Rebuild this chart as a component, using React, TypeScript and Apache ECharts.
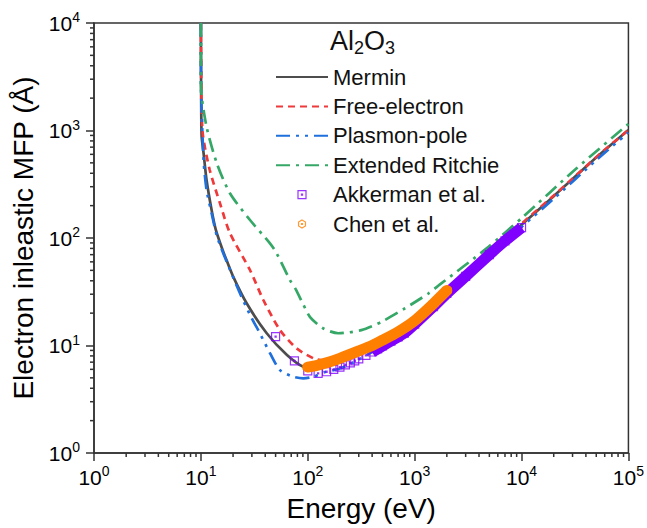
import React, { useEffect, useRef } from "react";
import * as echarts from "echarts";

// ---- Data ----
const merminE = [10.0, 10.02, 10.08, 10.17, 10.6, 11.3, 12.6, 13.8, 16, 17.4, 20, 26.8, 41.3, 63.5, 90.8, 120, 150, 200, 300, 500, 1000, 2000, 5000, 10000, 20000, 50000, 100000];
const merminL = [10000, 5000, 1500, 875, 614, 346, 182, 119, 77, 62, 44, 24.7, 13.0, 8.2, 6.35, 6.2, 6.5, 7.0, 8.6, 11.2, 17.5, 32, 72, 133, 245, 560, 1010];

const freeE = [10.0, 10.1, 10.4, 12.1, 15.1, 18.7, 28.8, 38.4, 55, 78.7, 113, 140, 200, 300, 500, 1000, 2000, 5000, 10000, 20000, 50000, 100000];
const freeL = [10000, 2500, 942, 429, 210, 111, 50.4, 26.5, 13.9, 9.4, 7.6, 7.3, 7.6, 8.9, 11.6, 17.8, 32.5, 72, 136, 248, 565, 1010];

const plasmonE = [10.0, 10.04, 10.6, 11.3, 12.6, 14.1, 16.2, 23.2, 29.9, 34.4, 44.3, 55, 73, 90.8, 113, 145, 200, 300, 500, 1000, 2000, 5000, 10000, 20000, 50000, 100000];
const plasmonL = [10000, 2500, 532, 280, 170, 105, 72, 30.6, 17.9, 13.9, 8.5, 5.9, 5.13, 4.95, 5.13, 5.66, 6.1, 7.4, 10.0, 16.0, 30, 68, 127, 232, 530, 960];

const ritchieE = [10.0, 10.03, 11.3, 14.1, 18.7, 28.8, 44.3, 51.2, 68, 77, 90, 105, 140, 193, 317, 490, 812, 1353, 1725, 4715, 10380, 32750, 100000];
const ritchieL = [10000, 2550, 1085, 495, 261, 147, 89, 72, 40.7, 33.5, 24.5, 18.4, 14.4, 13.0, 13.9, 16.6, 22.2, 30.6, 37, 80, 158, 445, 1150];

const akkermanE = [50, 75, 100, 125, 150, 175, 200, 225, 250, 275, 300, 350, 400, 450, 500, 600, 700, 800, 1000, 1500, 2000, 3000, 5000, 7000, 10000];
const akkermanL = [12.1, 7.2, 5.8, 5.5, 5.7, 6.0, 6.3, 6.6, 6.9, 7.2, 7.5, 8.1, 8.7, 9.3, 9.9, 11.0, 12.0, 13.0, 15.8, 23, 30.5, 44, 70, 94, 125];

const chenE = [100, 120, 150, 200, 300, 400, 500, 700, 1000, 1500, 2000];
const chenL = [6.3, 6.5, 6.9, 7.6, 8.9, 10.0, 11.2, 13.4, 17.0, 24.5, 32.5];

const xDecades = [1, 10, 100, 1000, 10000];
const yDecades = [1, 10, 100, 1000];
const minorSteps = [2, 3, 4, 5, 6, 7, 8, 9];

const FONT = "'Liberation Sans', Arial, Helvetica, sans-serif";
const AXIS = "#333333";
const PURPLE = "#8000ff";
const ORANGE = "#ff7f00";

const squarePath = "path://M0,0 L10,0 L10,10 L0,10 Z M4.3,4.3 L5.7,4.3 L5.7,5.7 L4.3,5.7 Z";
const hexPath = "path://M5,0 L9.33,2.5 L9.33,7.5 L5,10 L0.67,7.5 L0.67,2.5 Z M4.4,4.4 L5.6,4.4 L5.6,5.6 L4.4,5.6 Z";

const zip = (a: number[], b: number[]) => a.map((v, i) => [v, b[i]]);

const labelFmt = (v: number) => `{b|10}{s|${Math.round(Math.log10(v))}}`;
const labelRich = {
  b: { fontSize: 21, lineHeight: 26, fontFamily: FONT, color: "#000" },
  s: { fontSize: 14, lineHeight: 14, verticalAlign: "top", fontFamily: FONT, color: "#000" },
};

export default function App() {
  const ref = useRef<HTMLDivElement>(null);
  useEffect(() => {
    document.body.style.margin = "0";
    if (!ref.current) return;
    const chart = echarts.init(ref.current, undefined, { renderer: "svg" });

    const xMinor: number[][] = [];
    xDecades.forEach((d) => minorSteps.forEach((m) => xMinor.push([d * m, 1])));
    const yMinor: number[][] = [];
    yDecades.forEach((d) => minorSteps.forEach((m) => yMinor.push([1, d * m])));

    const lineBase = (name: string, e: number[], l: number[], color: string, type: any) => ({
      name,
      type: "line",
      data: zip(e, l),
      symbol: "none",
      showSymbol: false,
      smooth: 0.25,
      clip: true,
      lineStyle: { color, width: 2.7, type },
      itemStyle: { color },
      z: 2,
    });

    const hiddenDot = { opacity: 0, color: "transparent", borderWidth: 0 };

    chart.setOption({
      animation: false,
      backgroundColor: "#ffffff",
      textStyle: { fontFamily: FONT },
      title: {
        text: "Al{sub|2}O{sub|3}",
        left: 330,
        top: 25,
        padding: 0,
        textStyle: {
          fontSize: 27,
          fontWeight: "normal",
          color: "#111",
          fontFamily: FONT,
          lineHeight: 32,
          rich: { sub: { fontSize: 18, lineHeight: 18, verticalAlign: "bottom", fontFamily: FONT, color: "#111" } },
        },
      },
      legend: {
        orient: "vertical",
        left: 275,
        top: 65,
        padding: 0,
        itemWidth: 52,
        itemHeight: 8,
        itemGap: 5.4,
        textStyle: { fontSize: 22, color: "#111", fontFamily: FONT, lineHeight: 24 },
        data: [
          { name: "Mermin", itemStyle: hiddenDot },
          { name: "Free-electron", itemStyle: hiddenDot },
          { name: "Plasmon-pole", itemStyle: hiddenDot },
          { name: "Extended Ritchie", itemStyle: hiddenDot },
          { name: "Akkerman et al.", icon: squarePath, itemStyle: { color: "#ffffff", borderColor: PURPLE, borderWidth: 1.2 } },
          { name: "Chen et al.", icon: hexPath, itemStyle: { color: "#ffffff", borderColor: ORANGE, borderWidth: 1.2 } },
        ],
      },
      grid: {
        left: 94,
        right: 18,
        top: 23,
        bottom: 75,
        show: true,
        borderColor: AXIS,
        borderWidth: 1.5,
        backgroundColor: "transparent",
      },
      xAxis: {
        type: "log",
        logBase: 10,
        min: 1,
        max: 100000,
        axisLine: { show: true, lineStyle: { color: AXIS, width: 1.5 } },
        axisTick: { show: true, inside: false, length: 8, lineStyle: { color: AXIS, width: 1.5 } },
        splitLine: { show: false },
        minorTick: { show: false },
        axisLabel: { formatter: labelFmt, rich: labelRich, margin: 11, fontSize: 21, color: "#000" },
        name: "Energy (eV)",
        nameLocation: "middle",
        nameGap: 41,
        nameTextStyle: { fontSize: 28, color: "#000", fontFamily: FONT },
      },
      yAxis: {
        type: "log",
        logBase: 10,
        min: 1,
        max: 10000,
        axisLine: { show: true, lineStyle: { color: AXIS, width: 1.5 } },
        axisTick: { show: true, inside: false, length: 8, lineStyle: { color: AXIS, width: 1.5 } },
        splitLine: { show: false },
        minorTick: { show: false },
        axisLabel: { formatter: labelFmt, rich: labelRich, margin: 14, fontSize: 21, color: "#000" },
        name: "Electron inleastic MFP (Å)",
        nameLocation: "middle",
        nameGap: 52,
        nameTextStyle: { fontSize: 28, color: "#000", fontFamily: FONT },
      },
      series: [
        lineBase("Mermin", merminE, merminL, "#4d4d4d", "solid"),
        lineBase("Free-electron", freeE, freeL, "#ee3a3a", [7, 5]),
        lineBase("Plasmon-pole", plasmonE, plasmonL, "#1f6fdc", [14, 6, 3, 6, 3, 6]),
        lineBase("Extended Ritchie", ritchieE, ritchieL, "#35a766", [14, 6, 3, 6]),
        {
          name: "_akkBand",
          type: "line",
          data: zip(akkermanE, akkermanL).filter((p) => p[0] >= 400),
          symbol: "none",
          smooth: 0.2,
          lineStyle: { color: PURPLE, width: 11, cap: "butt", join: "bevel" },
          z: 3,
        },
        {
          name: "Akkerman et al.",
          type: "scatter",
          data: zip(akkermanE, akkermanL),
          symbol: squarePath,
          symbolSize: 8,
          itemStyle: { color: "transparent", borderColor: PURPLE, borderWidth: 1.2 },
          z: 3,
        },
        {
          name: "Chen et al.",
          type: "scatter",
          data: zip(chenE, chenL),
          symbol: hexPath,
          symbolSize: 9,
          itemStyle: { color: "transparent", borderColor: ORANGE, borderWidth: 1.2 },
          z: 3,
        },
        {
          name: "_chenBand",
          type: "line",
          data: zip(chenE, chenL),
          symbol: "none",
          smooth: 0.2,
          lineStyle: { color: ORANGE, width: 11, cap: "round", join: "round" },
          z: 4,
        },
        {
          name: "_xMinor",
          type: "custom",
          coordinateSystem: "cartesian2d",
          silent: true,
          clip: false,
          data: xMinor,
          z: 10,
          renderItem: (_p: any, api: any) => {
            const pt = api.coord([api.value(0), 1]);
            return {
              type: "line",
              shape: { x1: pt[0], y1: pt[1], x2: pt[0], y2: pt[1] + 4 },
              style: { stroke: AXIS, lineWidth: 1.5 },
            };
          },
        },
        {
          name: "_yMinor",
          type: "custom",
          coordinateSystem: "cartesian2d",
          silent: true,
          clip: false,
          data: yMinor,
          z: 10,
          renderItem: (_p: any, api: any) => {
            const pt = api.coord([1, api.value(1)]);
            return {
              type: "line",
              shape: { x1: pt[0] - 4, y1: pt[1], x2: pt[0], y2: pt[1] },
              style: { stroke: AXIS, lineWidth: 1.5 },
            };
          },
        },
      ],
    });
    return () => chart.dispose();
  }, []);
  return <div ref={ref} style={{ width: 647, height: 528 }} />;
}
